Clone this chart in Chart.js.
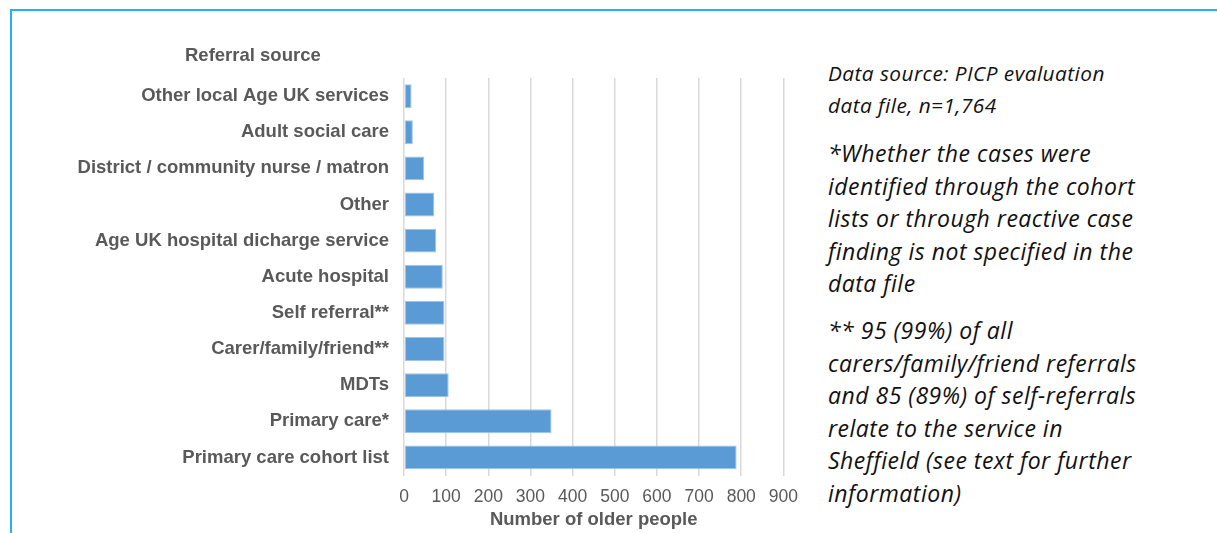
<!DOCTYPE html>
<html>
<head>
<meta charset="utf-8">
<script src="https://cdn.jsdelivr.net/npm/chart.js@4"></script>
<style>
  body { margin: 0; background: #fff; width: 1217px; height: 533px; overflow: hidden; position: relative; }
  .frame { position: absolute; left: 10px; top: 9px; width: 1220px; height: 540px; border-top: 2px solid #22b2ef; border-left: 2px solid #22b2ef; }
  .wrap { position: absolute; left: 0; top: 0; width: 809px; height: 533px; }
  .ytitle { position: absolute; left: 185px; top: 44px; font: bold 18.5px "Liberation Sans", Arial, sans-serif; color: #595959; }
  .note { position: absolute; left: 828px; font-family: "Open Sans", sans-serif; font-style: italic; color: #111; white-space: nowrap; }
  .small { font-size: 20.8px; letter-spacing: 0.45px; line-height: 32px; top: 57px; }
  .big { font-size: 23px; letter-spacing: 0.5px; line-height: 32.6px; }
</style>
</head>
<body>
<div class="frame"></div>
<div class="wrap"><canvas id="refChart"></canvas></div>
<div class="ytitle">Referral source</div>
<div class="note small">Data source: PICP evaluation<br>data file, n=1,764</div>
<div class="note big" style="top:137px">*Whether the cases were<br>identified through the cohort<br>lists or through reactive case<br>finding is not specified in the<br>data file</div>
<div class="note big" style="top:314px">** 95 (99%) of all<br>carers/family/friend referrals<br>and 85 (89%) of self-referrals<br>relate to the service in<br>Sheffield (see text for further<br>information)</div>
<script>
const sources = ['Other local Age UK services', 'Adult social care', 'District / community nurse / matron',
  'Other', 'Age UK hospital dicharge service', 'Acute hospital', 'Self referral**',
  'Carer/family/friend**', 'MDTs', 'Primary care*', 'Primary care cohort list'];
const olderPeople = [18, 21, 48, 72, 76, 92, 96, 96, 106, 350, 789];
const xTicks = [0, 100, 200, 300, 400, 500, 600, 700, 800, 900];

const ctx = document.getElementById('refChart').getContext('2d');
new Chart(ctx, {
  type: 'bar',
  data: {
    labels: sources,
    datasets: [{
      data: olderPeople,
      backgroundColor: '#5b9bd5',
      borderColor: '#9cc3ea',
      borderWidth: 1,
      borderSkipped: false,
      categoryPercentage: 1,
      barPercentage: 0.66
    }]
  },
  options: {
    indexAxis: 'y',
    responsive: true,
    maintainAspectRatio: false,
    animation: false,
    layout: { padding: { top: 78, right: 17, bottom: 2, left: 0 } },
    scales: {
      x: {
        min: 0,
        max: 900,
        afterBuildTicks: (scale) => { scale.ticks = xTicks.map(v => ({ value: v })); },
        afterFit: (scale) => { scale.height = 55.5; },
        grid: { color: '#d9d9d9', lineWidth: 1.5, drawTicks: false },
        border: { display: false },
        ticks: { color: '#595959', padding: 11, font: { family: 'Liberation Sans', size: 17.5 } },
        title: {
          display: true,
          text: 'Number of older people',
          color: '#595959',
          padding: { top: 0, bottom: 0 },
          font: { family: 'Liberation Sans', size: 18.5, weight: 'bold' }
        }
      },
      y: {
        afterFit: (scale) => { scale.width = 404; },
        grid: { display: false, drawTicks: false },
        border: { display: false },
        ticks: { color: '#595959', padding: 15, font: { family: 'Liberation Sans', size: 18.5, weight: 'bold' } }
      }
    },
    plugins: {
      legend: { display: false },
      tooltip: { enabled: false }
    }
  }
});
</script>
</body>
</html>
